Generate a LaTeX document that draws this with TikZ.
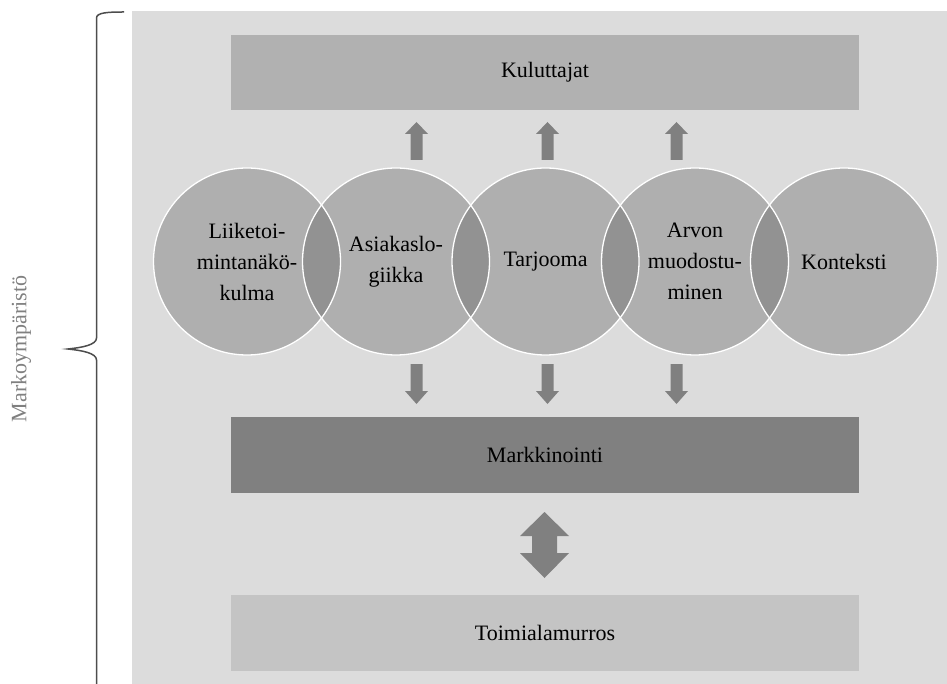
\documentclass[tikz,border=0pt]{standalone}
\usepackage{fontspec}
\setmainfont{Liberation Serif}
\definecolor{panelgray}{RGB}{220,220,220}
\definecolor{topgray}{RGB}{177,177,177}
\definecolor{midgray}{RGB}{128,128,128}
\definecolor{lowgray}{RGB}{196,196,196}
\definecolor{circgray}{RGB}{91,91,91}
\definecolor{arrowgray}{RGB}{128,128,128}
\definecolor{bracegray}{RGB}{77,77,77}
\definecolor{labelgray}{RGB}{128,128,128}
\begin{document}
\begin{tikzpicture}[x=1pt,y=-1pt,
  txt/.style={font=\fontsize{22}{31}\selectfont, text=black, align=center},
  box/.style={txt, rectangle, minimum width=628pt, minimum height=75.5pt, inner sep=0pt},
  circ/.style={txt, circle, minimum size=187pt, inner sep=0pt, fill=circgray, fill opacity=0.34, text opacity=1},
  ring/.style={draw=white, line width=1.3pt},
  arrowfill/.style={fill=arrowgray},
]
\useasboundingbox (0,0) rectangle (947,684);
% panel
\fill[panelgray] (132,11) rectangle (947,684);
% boxes
\node[box, fill=topgray] (kul) at (545,72.5) {Kuluttajat};
\node[box, fill=midgray] (mark) at (545,455) {Markkinointi};
\node[box, fill=lowgray] (toim) at (545,633) {Toimialamurros};
% circles
\node[circ] (c1) at (247,261.5) {Liiketoi-\\mintanäkö-\\kulma};
\node[circ] (c2) at (396,261.5) {Asiakaslo-\\giikka};
\node[circ] (c3) at (545.5,261.5) {Tarjooma};
\node[circ] (c4) at (695,261.5) {Arvon\\muodostu-\\minen};
\node[circ] (c5) at (844,261.5) {Konteksti};
\foreach \c in {c1,c2,c3,c4,c5}
  \draw[ring] (\c.center) circle[radius=93.5];
% up arrows
\foreach \cx in {416.5,547.5,676.5}
  \fill[arrowfill] ({\cx-6},160) -- ({\cx-6},134) -- ({\cx-11.5},134) -- (\cx,122)
     -- ({\cx+11.5},134) -- ({\cx+6},134) -- ({\cx+6},160) -- cycle;
% down arrows
\foreach \cx in {416.5,547.5,676.5}
  \fill[arrowfill] ({\cx-6},364) -- ({\cx-6},391) -- ({\cx-11.5},391) -- (\cx,404)
     -- ({\cx+11.5},391) -- ({\cx+6},391) -- ({\cx+6},364) -- cycle;
% double arrow
\fill[arrowfill] (544.5,512) -- (569,536) -- (557,536) -- (557,553) -- (569,553)
   -- (544.5,578) -- (520,553) -- (532,553) -- (532,536) -- (520,536) -- cycle;
% brace
\draw[bracegray, line width=1.5pt]
  (124,12) .. controls (108,12) and (96.5,12.5) .. (96.5,18)
  -- (96.5,338) .. controls (96.5,345) and (82,347.5) .. (68,349)
  .. controls (82,350.5) and (96.5,353) .. (96.5,360) -- (96.5,690);
% label
\node[font=\fontsize{22}{26}\selectfont, text=labelgray, rotate=90] (lab) at (21,349) {Markoympäristö};
\end{tikzpicture}
\end{document}
